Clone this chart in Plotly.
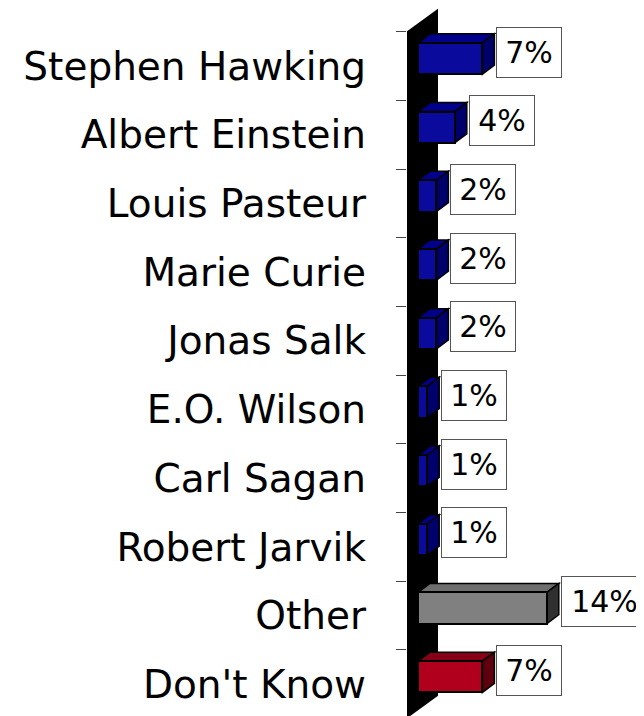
import plotly.graph_objects as go

# ---- data ----
categories = ["Stephen Hawking", "Albert Einstein", "Louis Pasteur", "Marie Curie",
              "Jonas Salk", "E.O. Wilson", "Carl Sagan", "Robert Jarvik",
              "Other", "Don't Know"]
values = [7, 4, 2, 2, 2, 1, 1, 1, 14, 7]
groups = ["named"] * 8 + ["other", "dk"]
value_labels = [f"{v}%" for v in values]

# ---- styling ----
PALETTE = {
    "named": ("#0A0A9C", "#00008A", "#00006A"),
    "other": ("#808080", "#6E6E6E", "#303030"),
    "dk": ("#B0001E", "#880016", "#5E000E"),
}
PAGE_OFF = 8        # browser body margin
W, H = 644 - PAGE_OFF, 716 - PAGE_OFF
PLOT_LEFT = 407 - PAGE_OFF
PX_X = 9.2          # pixels per percentage point
PX_Y = 68.7         # pixels per category band
ZERO_PX = 418 - PAGE_OFF
FIRST_CENTER = 66 - PAGE_OFF
X0 = -(ZERO_PX - PLOT_LEFT) / PX_X
X1 = (W - ZERO_PX) / PX_X
Y_TOP = -FIRST_CENTER / PX_Y
Y_BOT = (H - FIRST_CENTER) / PX_Y
DX = 12 / PX_X      # bar depth (x)
DY = 9 / PX_Y       # bar depth (y)
BAR_W = 0.455
BAR_SHIFT = -7.5 / PX_Y
WALL_DX = 31 / PX_X
WALL_DY = 23 / PX_Y

n = len(categories)
pos = list(range(n))
front = [PALETTE[g][0] for g in groups]

fig = go.Figure()

shapes = []
# back wall (black slab)
wx0, wx1 = X0 - 0.05, X0 + WALL_DX
shapes.append(dict(
    type="path", xref="x", yref="y", layer="below",
    path=(f"M {wx0},{-0.5} L {wx1},{-0.5 - WALL_DY} L {wx1},{n - 0.5 - WALL_DY} "
          f"L {wx0},{n - 0.5} Z"),
    fillcolor="black", line=dict(color="black", width=0)))

for i, (v, g) in enumerate(zip(values, groups)):
    c = i + BAR_SHIFT
    yt = c - BAR_W / 2
    yb = c + BAR_W / 2
    # top face
    shapes.append(dict(
        type="path", xref="x", yref="y", layer="below",
        path=f"M 0,{yt} L {v},{yt} L {v + DX},{yt - DY} L {DX},{yt - DY} Z",
        fillcolor=PALETTE[g][1], line=dict(color="black", width=1.5)))
    # side face
    shapes.append(dict(
        type="path", xref="x", yref="y", layer="below",
        path=f"M {v},{yt} L {v},{yb} L {v + DX},{yb - DY} L {v + DX},{yt - DY} Z",
        fillcolor=PALETTE[g][2], line=dict(color="black", width=1.5)))

# front faces
fig.add_trace(go.Bar(
    x=values, y=pos, orientation="h", base=0,
    width=BAR_W, offset=BAR_SHIFT - BAR_W / 2,
    marker=dict(color=front, line=dict(color="black", width=2)),
    hoverinfo="skip", showlegend=False))

annotations = []
for i, (v, lab) in enumerate(zip(values, value_labels)):
    annotations.append(dict(
        x=v + DX + 2 / PX_X, y=i - 14 / PX_Y, xref="x", yref="y",
        text=lab, showarrow=False, xanchor="left", yanchor="middle",
        font=dict(family="DejaVu Sans", size=30, color="black"),
        bgcolor="white", bordercolor="#555555", borderwidth=1, borderpad=4,
        width=56 if len(lab) <= 2 else 77, height=41, align="center"))

fig.update_layout(
    width=W, height=H,
    margin=dict(l=PLOT_LEFT, r=0, t=0, b=0),
    paper_bgcolor="white", plot_bgcolor="white",
    shapes=shapes, annotations=annotations,
    bargap=0,
    xaxis=dict(range=[X0, X1], visible=False, fixedrange=True),
    yaxis=dict(
        range=[Y_BOT, Y_TOP], tickmode="array", tickvals=pos, ticktext=categories,
        ticks="", showgrid=False, zeroline=False, showline=False,
        tickfont=dict(family="DejaVu Sans", size=39, color="black"),
        ticklabelstandoff=40,
        minor=dict(tickmode="array", tickvals=[k - 0.5 for k in range(n + 1)],
                   ticks="outside", ticklen=10, tickcolor="#444444", tickwidth=1,
                   showgrid=False),
        fixedrange=True),
)

fig.write_html("out.html")
